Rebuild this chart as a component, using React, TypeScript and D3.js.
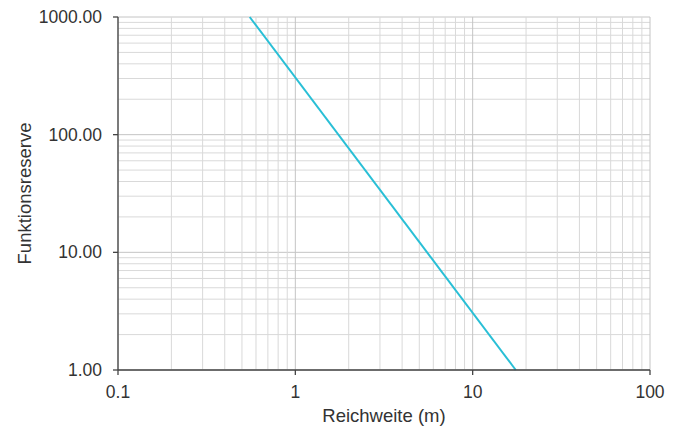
import React from 'react';
import * as d3 from 'd3';

// range (m) vs. function reserve, log-log
const rangeM = [0.553, 17.5];
const reserve = [1000, 1];

const xTicks = [0.1, 1, 10, 100];
const xTickLabels = ['0.1', '1', '10', '100'];
const yTicks = [1, 10, 100, 1000];
const yTickLabels = ['1.00', '10.00', '100.00', '1000.00'];

const xTitle = 'Reichweite (m)';
const yTitle = 'Funktionsreserve';

const width = 683;
const height = 430;
const margins = { l: 118, t: 17, r: 33, b: 60 };
const plotwidth = width - margins.l - margins.r;
const plotheight = height - margins.t - margins.b;

const font = '"Liberation Sans", Arial, sans-serif';

const minorValues = (lo, hi) => {
  const out = [];
  for (let d = lo; d < hi; d *= 10) {
    for (let k = 1; k <= 10; k++) out.push(d * k);
  }
  return Array.from(new Set(out.map(v => +v.toPrecision(6))));
};

const App = () => {
  const xScale = d3.scaleLog().domain([0.1, 100]).range([0, plotwidth]);
  const yScale = d3.scaleLog().domain([1, 1000]).range([plotheight, 0]);

  const xGrid = minorValues(0.1, 100);
  const yGrid = minorValues(1, 1000);

  const line = d3
    .line()
    .x(d => xScale(d[0]))
    .y(d => yScale(d[1]));
  const pts = rangeM.map((x, i) => [x, reserve[i]]);

  const isMajor = v => Math.abs(Math.log10(v) - Math.round(Math.log10(v))) < 1e-6;

  return (
    <svg
      width={width}
      height={height}
      style={{ position: 'absolute', left: 0, top: 0, background: '#fff' }}
      fontFamily={font}
    >
      <g transform={`translate(${margins.l},${margins.t})`}>
        {/* grid */}
        {yGrid.map(v => (
          <line
            key={'y' + v}
            x1={0}
            x2={plotwidth}
            y1={yScale(v)}
            y2={yScale(v)}
            stroke={isMajor(v) ? '#c4c4c4' : '#d9d9d9'}
            strokeWidth={1}
          />
        ))}
        {xGrid.map(v => (
          <line
            key={'x' + v}
            x1={xScale(v)}
            x2={xScale(v)}
            y1={0}
            y2={plotheight}
            stroke={isMajor(v) ? '#c4c4c4' : '#d9d9d9'}
            strokeWidth={1}
          />
        ))}

        {/* data */}
        <path d={line(pts)} fill="none" stroke="#29bfd6" strokeWidth={2} />

        {/* axes */}
        <line x1={0} x2={0} y1={0} y2={plotheight} stroke="#444" strokeWidth={1.3} />
        <line x1={0} x2={plotwidth} y1={plotheight} y2={plotheight} stroke="#444" strokeWidth={1.3} />
        {yTicks.map((v, i) => (
          <g key={'yt' + v} transform={`translate(0,${yScale(v)})`}>
            <line x1={-5} x2={0} stroke="#444" strokeWidth={1.3} />
            <text x={-16} dy="0.35em" textAnchor="end" fontSize={17.5} fill="#333">
              {yTickLabels[i]}
            </text>
          </g>
        ))}
        {xTicks.map((v, i) => (
          <g key={'xt' + v} transform={`translate(${xScale(v)},${plotheight})`}>
            <line y1={0} y2={5} stroke="#444" strokeWidth={1.3} />
            <text y={28} textAnchor="middle" fontSize={17.5} fill="#333">
              {xTickLabels[i]}
            </text>
          </g>
        ))}

        {/* titles */}
        <text
          x={plotwidth / 2}
          y={plotheight + 52}
          textAnchor="middle"
          fontSize={18.5}
          fill="#333"
        >
          {xTitle}
        </text>
        <text
          transform={`translate(${-87},${plotheight / 2})rotate(-90)`}
          textAnchor="middle"
          fontSize={18.5}
          fill="#333"
        >
          {yTitle}
        </text>
      </g>
    </svg>
  );
};

export default App;
